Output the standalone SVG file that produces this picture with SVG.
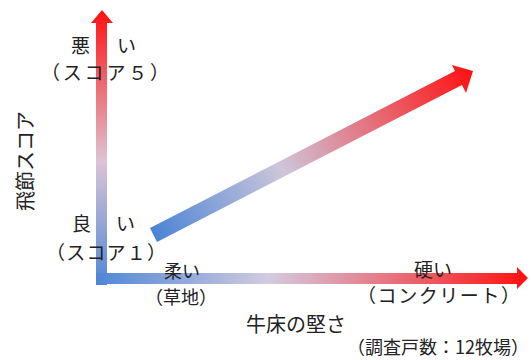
<svg xmlns="http://www.w3.org/2000/svg" width="531" height="360" viewBox="0 0 531 360">
<defs>
<linearGradient id="gv" x1="0" y1="1" x2="0" y2="0">
<stop offset="0" stop-color="#4f86d6"/>
<stop offset="0.45" stop-color="#dcc4d4"/>
<stop offset="1" stop-color="#ff1010"/>
</linearGradient>
<linearGradient id="gh" x1="0" y1="0" x2="1" y2="0">
<stop offset="0" stop-color="#4f86d6"/>
<stop offset="0.4" stop-color="#d3cbe0"/>
<stop offset="1" stop-color="#ff1010"/>
</linearGradient>
<linearGradient id="gd" gradientUnits="userSpaceOnUse" x1="153" y1="235" x2="473" y2="70">
<stop offset="0" stop-color="#4a84d6"/>
<stop offset="0.4" stop-color="#cdc6da"/>
<stop offset="1" stop-color="#ff1010"/>
</linearGradient>
<style>
text{font-family:"Noto Sans CJK JP","Noto Sans",sans-serif;fill:#222;font-size:19px}
.arrow{stroke:none}
</style>
</defs>
<g id="connectors">
<path class="arrow" fill="url(#gv)" d="M96 285 L96 23 L91 23 L102 10 L113 23 L107 23 L107 285 Z"/>
<path class="arrow" fill="url(#gh)" d="M96 273 L517 273 L517 267 L528 278 L517 289 L517 284 L96 284 Z"/>
<path class="arrow" fill="url(#gd)" d="M150 228 L455 71 L452 65 L473 71 L466 93 L462 85 L157 242 Z"/>
</g>
<g id="y-top">
<text x="71" y="53"><tspan>悪</tspan><tspan x="117">い</tspan></text>
<text x="41" y="80" textLength="128" lengthAdjust="spacing">（スコア５）</text>
</g>
<g id="y-bottom">
<text x="72" y="231"><tspan>良</tspan><tspan x="116">い</tspan></text>
<text x="46" y="260" textLength="120" lengthAdjust="spacing">（スコア１）</text>
</g>
<g id="y-label">
<text transform="translate(33 161) rotate(-90)" text-anchor="middle" style="font-size:20px">飛節スコア</text>
</g>
<g id="x-left">
<text x="164" y="278" style="font-size:18px">柔い</text>
<text x="145" y="304" style="font-size:18px">（草地）</text>
</g>
<g id="x-right">
<text x="414" y="277">硬い</text>
<text x="357" y="303" textLength="163" lengthAdjust="spacing">（コンクリート）</text>
</g>
<g id="x-label">
<text x="246" y="332" style="font-size:20px">牛床の堅さ</text>
</g>
<g id="note">
<text x="347" y="354" style="font-size:18px">（調査戸数：12牧場）</text>
</g>
</svg>
